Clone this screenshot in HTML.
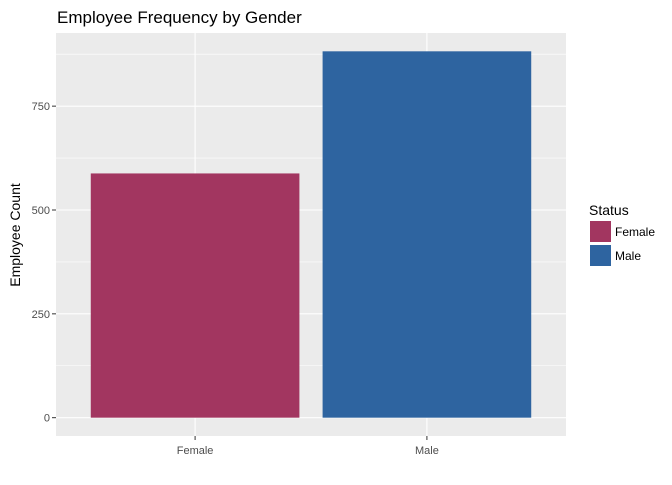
<!DOCTYPE html>
<html><head><meta charset="utf-8"><style>
body{margin:0;background:#fff;font-family:"Liberation Sans",Arial,sans-serif}
</style></head><body>
<svg id="chart" width="672" height="480" xmlns="http://www.w3.org/2000/svg" font-family="Liberation Sans, Arial, sans-serif">
<rect width="672" height="480" fill="#fff"/>
<text x="57" y="23" font-size="17" fill="#000">Employee Frequency by Gender</text>
<rect x="56" y="33" width="510" height="403" fill="#ebebeb"/>
<g id="grid"></g>
<g id="bars"></g>
<g id="axes"></g>
<text transform="translate(20,235) rotate(-90)" text-anchor="middle" font-size="14" fill="#000">Employee Count</text>
<text x="589" y="215" font-size="14" fill="#000">Status</text>
<rect x="590" y="221" width="21" height="21" fill="#a23660"/>
<text x="615" y="236" font-size="12" fill="#000">Female</text>
<rect x="590" y="245" width="21" height="21" fill="#2e64a0"/>
<text x="615" y="260" font-size="12" fill="#000">Male</text>
</svg>
<script>
const categories=["Female","Male"];
const counts=[588,882];
const colors=["#a23660","#2e64a0"];
const yTicks=[0,250,500,750];
const yMinor=[125,375,625,875];
const NS="http://www.w3.org/2000/svg";
const px0=56,pw=510,py0=33,ph=403;
const maxV=Math.max(...counts),pad=maxV*0.05,ymin=-pad,ymax=maxV+pad;
const y=v=>py0+ph-(v-ymin)/(ymax-ymin)*ph;
const n=categories.length,unit=pw/(n-1+1.2);
const x=i=>px0+(0.6+i)*unit;
function mk(t,a,p){const e=document.createElementNS(NS,t);for(const k in a)e.setAttribute(k,a[k]);p.appendChild(e);return e;}
const grid=document.getElementById('grid'),bars=document.getElementById('bars'),axes=document.getElementById('axes');
yMinor.forEach(v=>{if(v>ymax)return;const l=mk('line',{x1:px0,x2:px0+pw,y1:y(v),y2:y(v),stroke:'#fff','stroke-width':0.6},grid);

});
yTicks.forEach(v=>{const l=mk('line',{x1:px0,x2:px0+pw,y1:y(v),y2:y(v),stroke:'#fff','stroke-width':1.1},grid);


const t=mk('line',{x1:px0-4,x2:px0,y1:y(v),y2:y(v),stroke:'#333','stroke-width':1},axes);


const s=mk('text',{x:px0-6,y:y(v)+4,'text-anchor':'end','font-size':11,fill:'#4d4d4d'},axes);s.textContent=v;

});
categories.forEach((c,i)=>{const l=mk('line',{x1:x(i),x2:x(i),y1:py0,y2:py0+ph,stroke:'#fff','stroke-width':1.1},grid);


const bw=unit*0.9;
const b=mk('rect',{x:x(i)-bw/2,y:y(counts[i]),width:bw,height:y(0)-y(counts[i]),fill:colors[i]},bars);


const t=mk('line',{x1:x(i),x2:x(i),y1:py0+ph,y2:py0+ph+4,stroke:'#333','stroke-width':1},axes);


const s=mk('text',{x:x(i),y:py0+ph+18,'text-anchor':'middle','font-size':11,fill:'#4d4d4d'},axes);s.textContent=c;

});
</script>
</body></html>
